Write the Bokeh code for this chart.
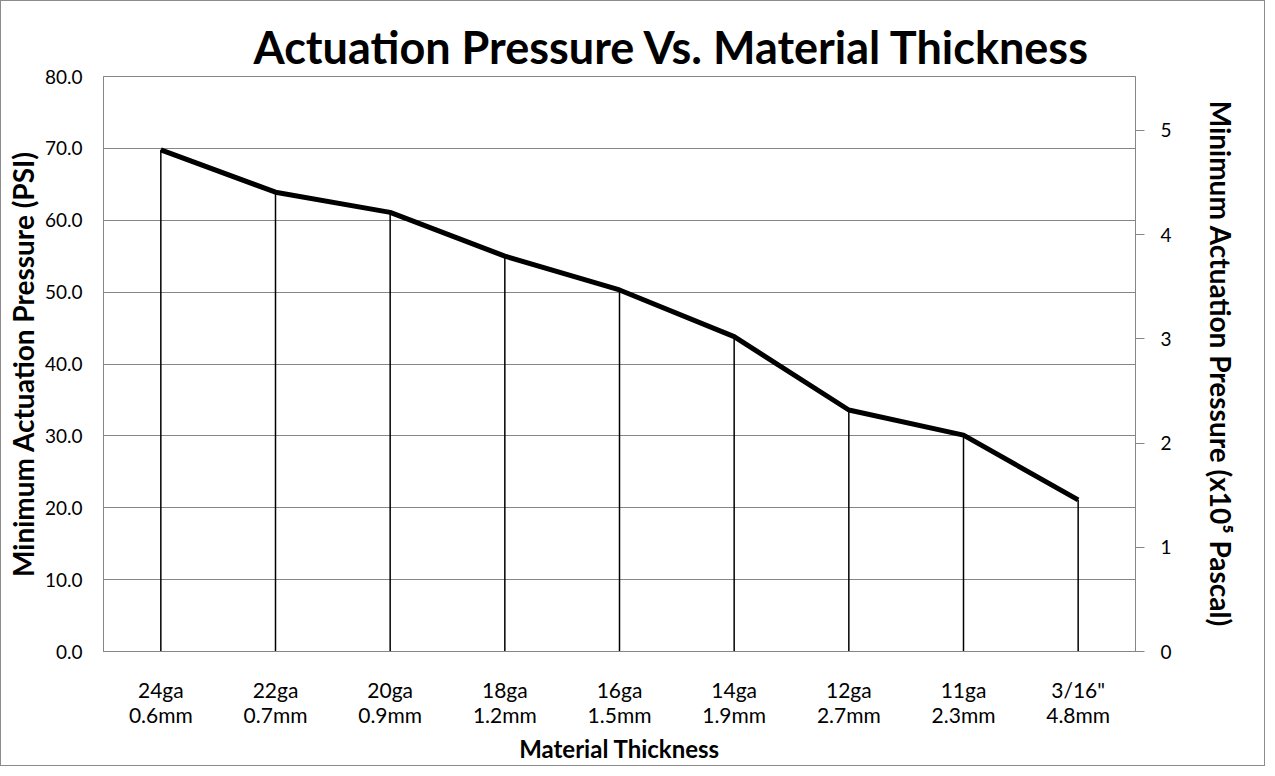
from bokeh.plotting import figure
from bokeh.models import Range1d, LinearAxis, FixedTicker, PrintfTickFormatter, FactorRange
from bokeh.embed import file_html
from bokeh.resources import INLINE

categories = ["24ga\n0.6mm", "22ga\n0.7mm", "20ga\n0.9mm", "18ga\n1.2mm", "16ga\n1.5mm",
              "14ga\n1.9mm", "12ga\n2.7mm", "11ga\n2.3mm", "3/16\"\n4.8mm"]
psi = [69.8, 63.9, 61.1, 55.0, 50.3, 43.8, 33.6, 30.1, 21.1]
psi_ticks = [0, 10, 20, 30, 40, 50, 60, 70, 80]
pascal_ticks = [0, 1, 2, 3, 4, 5]
PSI_TO_1E5PA = 0.0689476

FONT = "Lato"
GRID = "#868686"

p = figure(width=1265, height=766, x_range=FactorRange(factors=categories),
           y_range=Range1d(0, 80), output_backend="svg", toolbar_location=None,
           min_border_left=102, min_border_right=131, min_border_top=75, min_border_bottom=116)
p.extra_y_ranges = {"pa": Range1d(0, 80 * PSI_TO_1E5PA)}
p.styles = {"border": "1px solid #8c8c8c", "box-sizing": "border-box"}

p.outline_line_color = GRID
p.outline_line_width = 1
p.background_fill_color = "white"
p.border_fill_color = "white"

# Title
p.title.text = "Actuation Pressure Vs. Material Thickness"
p.title.text_font = FONT
p.title.text_font_size = "45px"
p.title.text_font_style = "bold"
p.title.text_color = "black"
p.title.align = "left"
p.title.offset = 150
p.title.standoff = 5

# Grid
p.xgrid.grid_line_color = None
p.ygrid.grid_line_color = GRID
p.ygrid.grid_line_width = 1
p.ygrid.ticker = FixedTicker(ticks=psi_ticks)

# Left axis
ya = p.yaxis[0]
ya.ticker = FixedTicker(ticks=psi_ticks)
ya.formatter = PrintfTickFormatter(format="%.1f")
ya.major_tick_line_color = None
ya.minor_tick_line_color = None
ya.axis_line_color = GRID
ya.major_label_text_font = FONT
ya.major_label_text_font_size = "19px"
ya.major_label_text_color = "black"
ya.major_label_standoff = 15
ya.axis_label = "Minimum Actuation Pressure (PSI)"
ya.axis_label_text_font = FONT
ya.axis_label_text_font_size = "28px"
ya.axis_label_text_font_style = "bold"
ya.axis_label_text_color = "black"
ya.axis_label_standoff = 2

# Bottom axis
xa = p.xaxis[0]
xa.major_tick_line_color = None
xa.minor_tick_line_color = None
xa.axis_line_color = GRID
xa.major_label_text_font = FONT
xa.major_label_text_font_size = "21px"
xa.major_label_text_line_height = 1.0
xa.major_label_text_color = "black"
xa.major_label_standoff = 19
xa.axis_label = "Material Thickness"
xa.axis_label_text_font = FONT
xa.axis_label_text_font_size = "24px"
xa.axis_label_text_font_style = "bold"
xa.axis_label_text_color = "black"
xa.axis_label_standoff = 4

# Right axis
ra = LinearAxis(y_range_name="pa", ticker=FixedTicker(ticks=pascal_ticks))
ra.axis_line_color = GRID
ra.major_tick_line_color = GRID
ra.major_tick_out = 9
ra.major_tick_in = 0
ra.minor_tick_line_color = None
ra.major_label_text_font = FONT
ra.major_label_text_font_size = "19px"
ra.major_label_text_color = "black"
ra.major_label_standoff = 16
ra.axis_label = "Minimum Actuation Pressure (x10\u2075 Pascal)"
ra.axis_label_text_font = FONT
ra.axis_label_text_font_size = "28px"
ra.axis_label_text_font_style = "bold"
ra.axis_label_text_color = "black"
ra.axis_label_standoff = 29
p.add_layout(ra, "right")

# Drop lines and data line
p.segment(x0=categories, y0=[0] * len(psi), x1=categories, y1=psi,
          line_color="black", line_width=1.5)
p.line(x=categories, y=psi, line_color="black", line_width=5, line_join="round")

open("out.html", "w").write(file_html(p, INLINE))
